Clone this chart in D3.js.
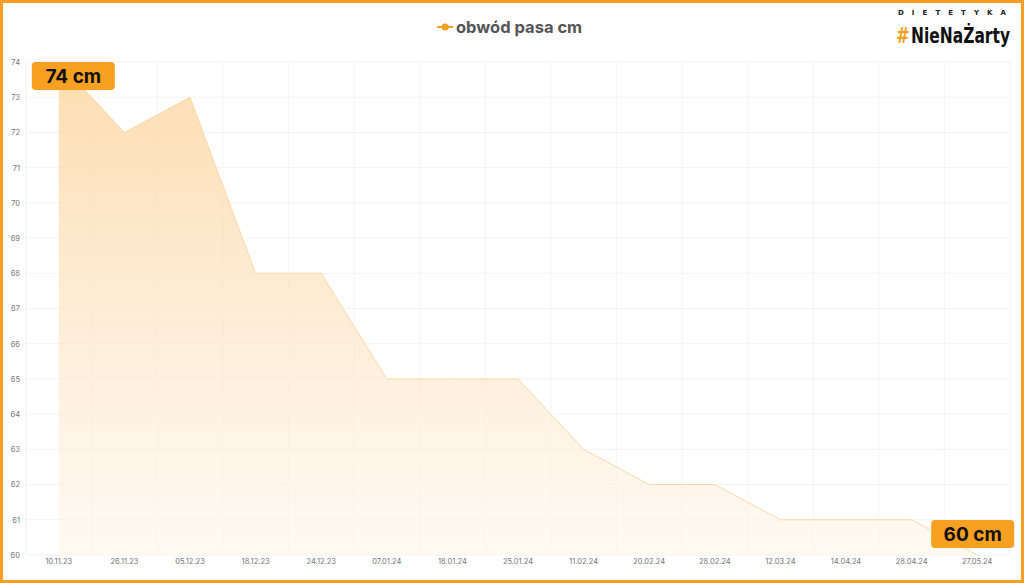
<!DOCTYPE html>
<html>
<head>
<meta charset="utf-8">
<script src="https://cdn.jsdelivr.net/npm/d3@7"></script>
<style>
  html, body { margin: 0; padding: 0; background: #fff; }
  svg { display: block; }
</style>
</head>
<body>
<svg width="1024" height="583"></svg>
<script>
// dates of measurement and waist size (cm)
var dates = ["10.11.23", "26.11.23", "05.12.23", "18.12.23", "24.12.23", "07.01.24", "18.01.24",
  "25.01.24", "11.02.24", "20.02.24", "28.02.24", "12.03.24", "14.04.24", "28.04.24", "27.05.24"];
var waist = [74, 72, 73, 68, 68, 65, 65, 65, 63, 62, 62, 61, 61, 61, 60];
var yTicks = [60, 61, 62, 63, 64, 65, 66, 67, 68, 69, 70, 71, 72, 73, 74];
var seriesName = "obwód pasa cm";

var orange = "#f7a021";

var svg = d3.select("svg"),
  margin = {top: 62, right: 14, bottom: 28, left: 26},
  width = +svg.attr("width") - margin.left - margin.right,
  height = +svg.attr("height") - margin.top - margin.bottom;

var defs = svg.append("defs");
var grad = defs.append("linearGradient")
  .attr("id", "fillGrad")
  .attr("x1", 0).attr("y1", 0).attr("x2", 0).attr("y2", 1);
grad.append("stop").attr("offset", "0%").attr("stop-color", "#fcd9a6").attr("stop-opacity", 0.9);
grad.append("stop").attr("offset", "55%").attr("stop-color", "#fde6c8").attr("stop-opacity", 0.7);
grad.append("stop").attr("offset", "100%").attr("stop-color", "#fff6ea").attr("stop-opacity", 0.6);

var g = svg.append("g").attr("transform", "translate(" + margin.left + "," + margin.top + ")");

var x = d3.scaleBand()
  .domain(dates)
  .range([0, width]);

var y = d3.scaleLinear()
  .domain([60, 74])
  .range([height, 0]);

var cx = function(d) { return x(d) + x.bandwidth() / 2; };

// grid
g.append("g")
  .selectAll("line")
  .data(yTicks)
  .enter().append("line")
    .attr("x1", 0).attr("x2", width)
    .attr("y1", function(d) { return y(d); })
    .attr("y2", function(d) { return y(d); })
    .attr("stroke", "#f3f3f3");

g.append("g")
  .selectAll("line")
  .data(dates.slice(1).concat(["end"]))
  .enter().append("line")
    .attr("x1", function(d, i) { return i < dates.length - 1 ? x(d) : width; })
    .attr("x2", function(d, i) { return i < dates.length - 1 ? x(d) : width; })
    .attr("y1", 0).attr("y2", height)
    .attr("stroke", "#f4f4f4");

g.append("line")
  .attr("x1", 0).attr("x2", 0)
  .attr("y1", 0).attr("y2", height)
  .attr("stroke", "#eeeeee");

// area
var area = d3.area()
  .x(function(d, i) { return cx(dates[i]); })
  .y0(height)
  .y1(function(d) { return y(d); });

g.append("path")
  .datum(waist)
  .attr("d", area)
  .attr("fill", "url(#fillGrad)");

g.append("path")
  .datum(waist)
  .attr("d", d3.line().x(function(d, i) { return cx(dates[i]); }).y(function(d) { return y(d); }))
  .attr("fill", "none")
  .attr("stroke", "#fbd9a8")
  .attr("stroke-width", 1);

// axes
var yAxis = g.append("g")
  .call(d3.axisLeft(y).tickValues(yTicks).tickSize(0).tickPadding(6));
yAxis.select(".domain").remove();
yAxis.selectAll("text")
  .attr("font-family", "Inter, 'Open Sans', sans-serif")
  .attr("font-size", 7.5)
  .attr("fill", "#777");

var xAxis = g.append("g")
  .attr("transform", "translate(0," + height + ")")
  .call(d3.axisBottom(x).tickSize(0).tickPadding(4));
xAxis.select(".domain").remove();
xAxis.selectAll("text")
  .attr("font-family", "Inter, 'Open Sans', sans-serif")
  .attr("font-size", 7.5)
  .attr("fill", "#777");

// value badges
function badge(i, bx, by) {
  var b = svg.append("g").attr("transform", "translate(" + bx + "," + by + ")");
  b.append("rect")
    .attr("width", 83).attr("height", 28)
    .attr("rx", 4)
    .attr("fill", orange);
  b.append("text")
    .attr("x", 41.5).attr("y", 21)
    .attr("text-anchor", "middle")
    .attr("font-family", "Inter, 'Open Sans', sans-serif")
    .attr("font-weight", 700)
    .attr("font-size", 19)
    .attr("fill", "#111")
    .text(waist[i] + " cm");
}
badge(0, margin.left + cx(dates[0]) - 27, margin.top);
badge(waist.length - 1, margin.left + cx(dates[dates.length - 1]) - 46, margin.top + y(60) - 35);

// legend
var lg = svg.append("g").attr("transform", "translate(437,27)");
lg.append("line").attr("x1", 0).attr("x2", 16).attr("stroke", orange).attr("stroke-width", 2);
lg.append("circle").attr("cx", 8).attr("r", 3.5).attr("fill", orange);
lg.append("text")
  .attr("x", 19).attr("y", 5.5)
  .attr("font-family", "Inter, 'Open Sans', sans-serif")
  .attr("font-weight", 700)
  .attr("font-size", 16.5)
  .attr("fill", "#555")
  .text(seriesName);

// logo
svg.append("text")
  .attr("x", 898).attr("y", 15)
  .attr("font-family", "'DejaVu Sans', sans-serif")
  .attr("font-weight", 700)
  .attr("font-size", 7)
  .attr("textLength", 108)
  .attr("lengthAdjust", "spacing")
  .attr("fill", "#222")
  .text("DIETETYKA");
svg.append("text")
  .attr("transform", "translate(896,43) scale(1,1.2)")
  .attr("font-family", "'DejaVu Sans Condensed', 'Liberation Sans', sans-serif")
  .attr("font-weight", 700)
  .attr("font-size", 18)
  .attr("fill", orange)
  .text("#");
svg.append("text")
  .attr("transform", "translate(911,43) scale(1,1.25)")
  .attr("font-family", "'DejaVu Sans Condensed', 'Liberation Sans', sans-serif")
  .attr("font-weight", 700)
  .attr("font-size", 16.5)
  .attr("textLength", 99)
  .attr("lengthAdjust", "spacingAndGlyphs")
  .attr("fill", "#111")
  .text("NieNaŻarty");

// frame
svg.append("rect")
  .attr("x", 1.5).attr("y", 1.5)
  .attr("width", 1021).attr("height", 580)
  .attr("fill", "none")
  .attr("stroke", orange)
  .attr("stroke-width", 3);
</script>
</body>
</html>
